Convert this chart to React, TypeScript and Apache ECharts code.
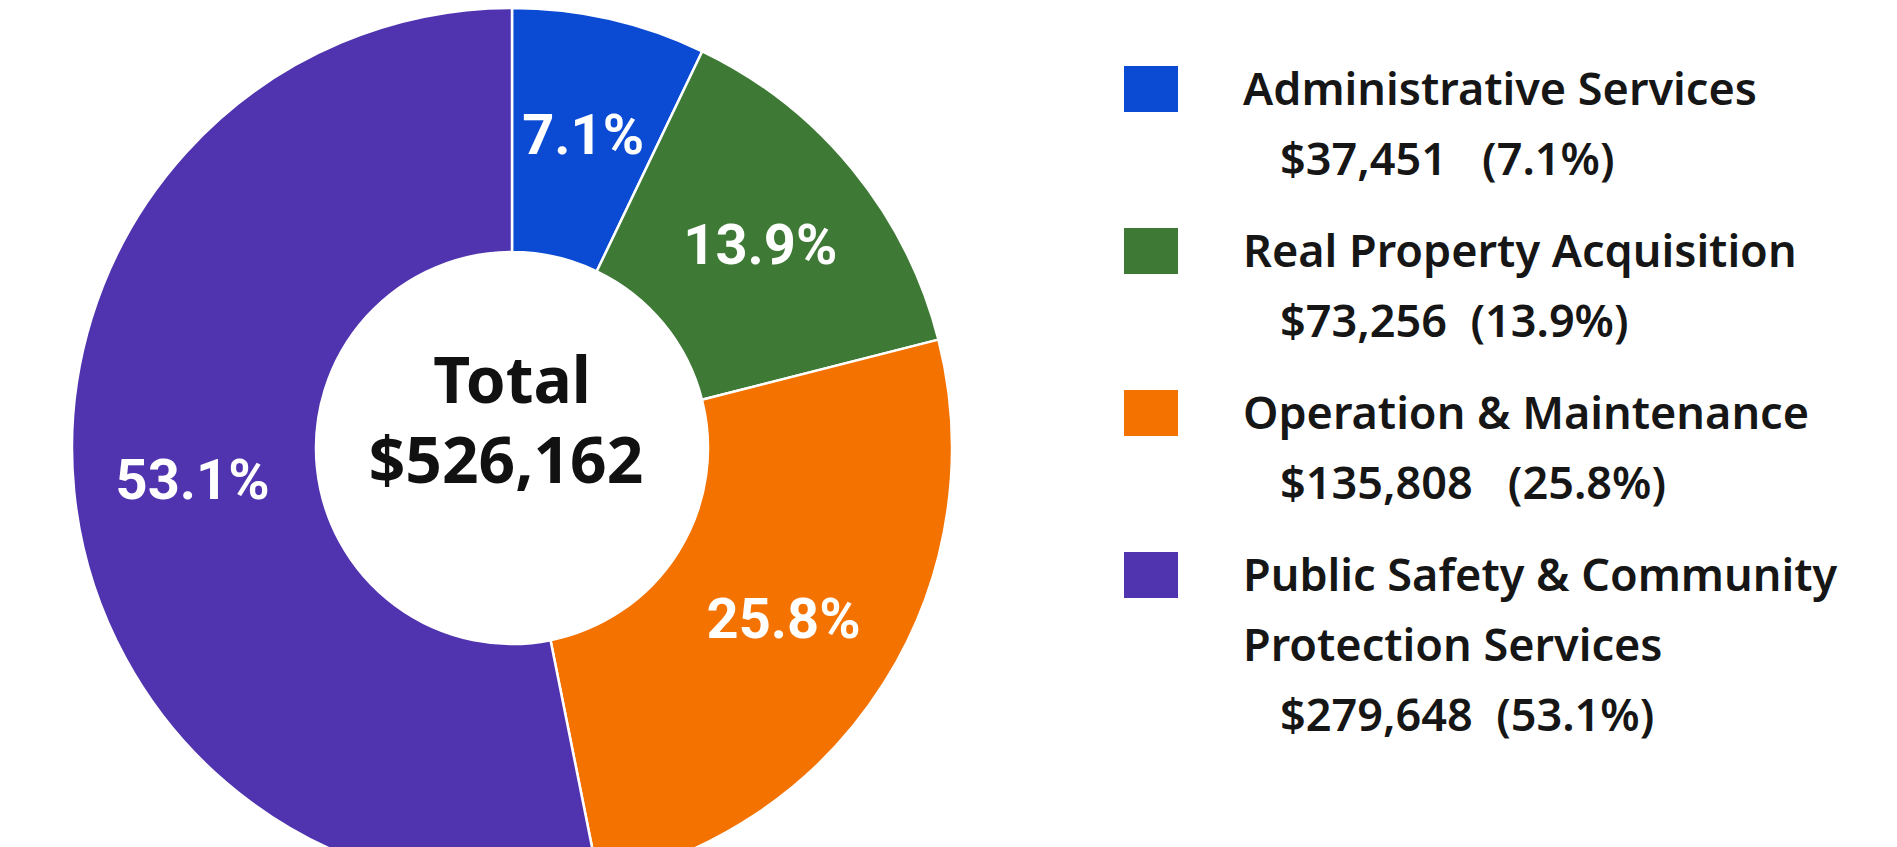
import React, { useEffect, useRef } from 'react';
import * as echarts from 'echarts';

// ---- data ----
const categories = [
  'Administrative Services',
  'Real Property Acquisition',
  'Operation & Maintenance',
  'Public Safety & Community\nProtection Services',
];
const amounts = [37451, 73256, 135808, 279648];
const percents = [7.1, 13.9, 25.8, 53.1];
const totalLabel = 'Total';
const totalAmount = 526162;
const valueGaps = ['   ', '  ', '   ', '  '];

// ---- styles ----
const colors = ['#0b4bd3', '#3e7a36', '#f37200', '#5033ae'];

const money = (n: number) => '$' + String(n).replace(/\B(?=(\d{3})+(?!\d))/g, ',');

export default function App() {
  const ref = useRef<HTMLDivElement>(null);

  useEffect(() => {
    if (!ref.current) return;
    const chart = echarts.init(ref.current, undefined, { renderer: 'svg' });

    const CX = 512;
    const CY = 448;

    // legend built as graphics
    const LEG_X = 1124;
    const TXT_X = 1243;
    const VAL_X = 1280;
    const LINE = 70;
    const GAP = 22;
    const FONT = 45;
    const MID = 16; // baseline -> middle offset
    let base = 103;
    const graphics: any[] = [];
    categories.forEach((name, i) => {
      const lines = name.split('\n');
      graphics.push({
        type: 'rect',
        shape: { x: LEG_X, y: base - 37, width: 54, height: 46 },
        style: { fill: colors[i] },
      });
      lines.forEach((ln, j) => {
        graphics.push({
          type: 'text',
          x: TXT_X,
          y: base + j * LINE - MID,
          style: {
            text: ln,
            fill: '#161616',
            fontSize: FONT,
            fontWeight: 600,
            fontFamily: '"Noto Sans", sans-serif',
            verticalAlign: 'middle',
            align: 'left',
          },
        });
      });
      graphics.push({
        type: 'text',
        x: VAL_X,
        y: base + lines.length * LINE - MID,
        style: {
          text: money(amounts[i]) + valueGaps[i] + '(' + percents[i].toFixed(1) + '%)',
          fill: '#161616',
          fontSize: FONT,
          fontWeight: 600,
          fontFamily: '"Noto Sans", sans-serif',
          verticalAlign: 'middle',
          align: 'left',
        },
      });
      base += (lines.length + 1) * LINE + GAP;
    });

    // centre text
    graphics.push({
      type: 'text',
      x: CX,
      y: 378,
      style: {
        text: totalLabel,
        fill: '#111',
        fontSize: 64,
        fontWeight: 'bold',
        fontFamily: '"Noto Sans", sans-serif',
        align: 'center',
        verticalAlign: 'middle',
      },
    });
    graphics.push({
      type: 'text',
      x: CX - 6,
      y: 458,
      style: {
        text: money(totalAmount),
        fill: '#111',
        fontSize: 64,
        fontWeight: 'bold',
        fontFamily: '"Noto Sans", sans-serif',
        align: 'center',
        verticalAlign: 'middle',
      },
    });

    chart.setOption({
      animation: false,
      backgroundColor: '#ffffff',
      color: colors,
      graphic: graphics,
      series: [
        {
          type: 'pie',
          center: [CX, CY],
          radius: [196, 440],
          startAngle: 90,
          clockwise: true,
          avoidLabelOverlap: false,
          itemStyle: { borderColor: '#ffffff', borderWidth: 2.5 },
          label: {
            show: true,
            position: 'inside',
            color: '#ffffff',
            fontSize: 56,
            fontWeight: 'bold',
            fontFamily: 'Roboto, sans-serif',
            formatter: (p: any) => percents[p.dataIndex].toFixed(1) + '%',
          },
          labelLine: { show: false },
          emphasis: { disabled: true },
          data: categories.map((name, i) => ({ name, value: amounts[i] })),
        },
      ],
    });

    return () => chart.dispose();
  }, []);

  return (
    <div
      ref={ref}
      style={{ position: 'absolute', left: 0, top: 0, width: 1897, height: 847, background: '#fff' }}
    />
  );
}
